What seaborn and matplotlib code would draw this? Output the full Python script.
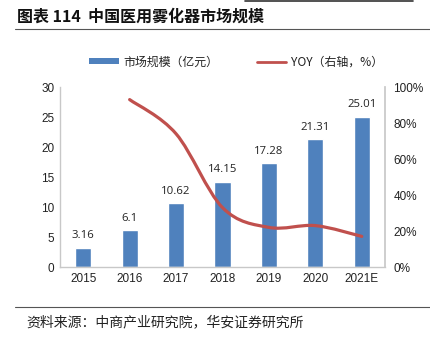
import matplotlib
matplotlib.use("Agg")
import matplotlib.pyplot as plt
from matplotlib.path import Path
from matplotlib.patches import PathPatch
from matplotlib.lines import Line2D
from matplotlib.patches import Patch
import seaborn as sns
import numpy as np
import pandas as pd

years = ["2015", "2016", "2017", "2018", "2019", "2020", "2021E"]
market = [3.16, 6.1, 10.62, 14.15, 17.28, 21.31, 25.01]
yoy_years = ["2016", "2017", "2018", "2019", "2020", "2021E"]
yoy = [93, 74, 33, 22, 23, 17]
left_ticks = [0, 5, 10, 15, 20, 25, 30]
right_ticks = [0, 20, 40, 60, 80, 100]

sns.set_theme(style="white")
plt.rcParams["font.family"] = ["Liberation Sans", "Noto Sans CJK SC", "DejaVu Sans"]
CJK = ["Noto Sans CJK SC", "DejaVu Sans"]

fig = plt.figure(figsize=(4.31, 3.40), dpi=100)
ax = fig.add_axes([60/431, 1-267/340, (385-60)/431, (267-87)/340])

df = pd.DataFrame({"year": years, "value": market})
sns.barplot(data=df, x="year", y="value", color="#4F81BD", width=0.35,
            saturation=1, ax=ax, order=years)
ax.set_xlim(-0.5, 6.5)
ax.set_ylim(0, 30)
ax.set_yticks(left_ticks)
ax.set_xlabel("")
ax.set_ylabel("")
for i, v in enumerate(market):
    ax.text(i, v + 1.1, f"{v:g}", ha="center", va="bottom", fontsize=8.2,
            color="#222222", family=["Open Sans", "DejaVu Sans"])
ax.tick_params(axis="both", labelsize=8.5, colors="#222222", length=0, pad=4)
for s in ["top", "right"]:
    ax.spines[s].set_visible(False)
for s in ["left", "bottom"]:
    ax.spines[s].set_color("#C8C8C8")
    ax.spines[s].set_linewidth(1)

ax2 = ax.twinx()
ax2.set_ylim(0, 100)
ax2.set_yticks(right_ticks)
ax2.set_yticklabels([f"{t}%" for t in right_ticks])
ax2.tick_params(axis="y", labelsize=8.5, colors="#222222", length=0, pad=6)
for s in ["top", "left", "bottom"]:
    ax2.spines[s].set_visible(False)
ax2.spines["right"].set_color("#C8C8C8")
ax2.grid(False)

# smooth line (Excel-style Catmull-Rom bezier) through YOY points
xs = np.array([years.index(y) for y in yoy_years], dtype=float)
ys = np.array(yoy, dtype=float)
n = len(xs)
verts = [(xs[0], ys[0])]
codes = [Path.MOVETO]
for i in range(n - 1):
    p0 = np.array([xs[max(i-1, 0)], ys[max(i-1, 0)]])
    p1 = np.array([xs[i], ys[i]])
    p2 = np.array([xs[i+1], ys[i+1]])
    p3 = np.array([xs[min(i+2, n-1)], ys[min(i+2, n-1)]])
    c1 = p1 + (p2 - p0) / 6
    c2 = p2 - (p3 - p1) / 6
    verts += [tuple(c1), tuple(c2), tuple(p2)]
    codes += [Path.CURVE4] * 3
ax2.add_patch(PathPatch(Path(verts, codes), fill=False, edgecolor="#C0504D",
                        linewidth=2.3, capstyle="round"))

# legend
handles = [Patch(facecolor="#4F81BD", edgecolor="none"),
           Line2D([0], [0], color="#C0504D", linewidth=2)]
leg = fig.legend(handles, ["市场规模（亿元）", "YOY（右轴，%）"],
                 loc="center", bbox_to_anchor=(236/431, 1-62/340), ncol=2,
                 frameon=False, handlelength=2.5, handleheight=0.4,
                 columnspacing=3.2, handletextpad=0.35,
                 prop={"family": CJK, "size": 8.6})
for t in leg.get_texts():
    t.set_color("#222222")

# title
fig.text(17/431, 1-17/340, "图表 114  中国医用雾化器市场规模", ha="left", va="center",
         fontsize=11.5, fontweight="bold", family=CJK, color="#111111")
fig.add_artist(Line2D([15/431, 430/431], [1-29/340, 1-29/340], color="#555555", linewidth=0.8))
fig.add_artist(Line2D([245/431, 413/431], [1-0.5/340, 1-0.5/340], color="#333333", linewidth=1.2))

# footer
fig.add_artist(Line2D([15/431, 430/431], [1-307/340, 1-307/340], color="#555555", linewidth=0.8))
fig.text(26/431, 1-322/340, "资料来源：中商产业研究院，华安证券研究所", ha="left", va="center",
         fontsize=10, family=CJK, color="#222222")

fig.savefig("out.png", dpi=100)
